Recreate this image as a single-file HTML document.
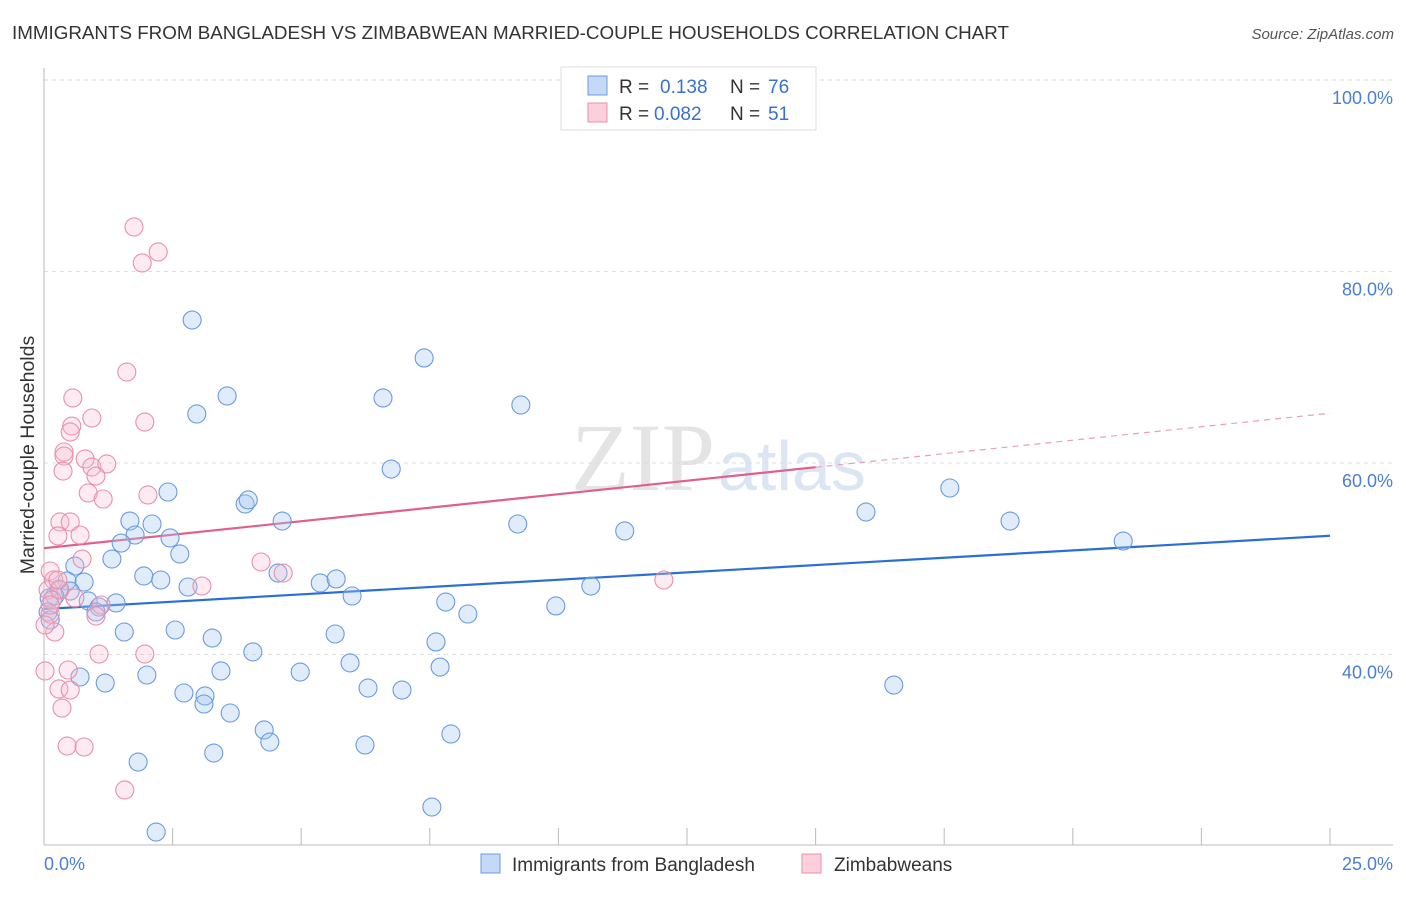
<!DOCTYPE html>
<html><head><meta charset="utf-8"><style>
body{margin:0;background:#fff;font-family:"Liberation Sans",sans-serif;}
</style></head><body>
<svg id="chart" width="1406" height="892" xmlns="http://www.w3.org/2000/svg" font-family="Liberation Sans, sans-serif">
<text x="12" y="39" font-size="18.8" fill="#333">IMMIGRANTS FROM BANGLADESH VS ZIMBABWEAN MARRIED-COUPLE HOUSEHOLDS CORRELATION CHART</text>
<text x="1394" y="39" font-size="15" fill="#555" font-style="italic" text-anchor="end">Source: ZipAtlas.com</text>
<text x="715" y="490" font-size="96" fill="#e4e4e4" text-anchor="end" font-family="Liberation Serif, serif">ZIP</text>
<text x="718" y="490" font-size="70" fill="#dbe5f4">atlas</text>
<g id="grid"></g>
<g id="axes"></g>
<g id="trends"></g>
<g id="pts"></g>
<text x="34" y="455" font-size="19.5" fill="#333" text-anchor="middle" transform="rotate(-90 34 455)">Married-couple Households</text>
<text x="44" y="870" font-size="18" fill="#4a7fd4">0.0%</text>
<text x="1393" y="870" font-size="18" fill="#4a7fd4" text-anchor="end">25.0%</text>
<g>
<rect x="561" y="67" width="255" height="63" fill="#fff" stroke="#ddd"/>
<rect x="588" y="76" width="19" height="19" fill="#c5d8f5" stroke="#6a9be0"/>
<rect x="588" y="103" width="19" height="19" fill="#fbd0dc" stroke="#e890aa"/>
<text x="619" y="93" font-size="19" fill="#333">R = </text><text x="660" y="93" font-size="19" fill="#3a70d0">0.138</text>
<text x="730" y="93" font-size="19" fill="#333">N = </text><text x="768" y="93" font-size="19" fill="#3a70d0">76</text>
<text x="619" y="120" font-size="19" fill="#333">R = </text><text x="654" y="120" font-size="19" fill="#3a70d0">0.082</text>
<text x="730" y="120" font-size="19" fill="#333">N = </text><text x="768" y="120" font-size="19" fill="#3a70d0">51</text>
</g>
<g>
<rect x="481" y="854" width="19" height="19" fill="#c5d8f5" stroke="#6a9be0"/>
<text x="512" y="871" font-size="19" fill="#333">Immigrants from Bangladesh</text>
<rect x="802" y="854" width="19" height="19" fill="#fbd0dc" stroke="#e890aa"/>
<text x="834" y="871" font-size="19" fill="#333">Zimbabweans</text>
</g>
</svg>
<script>
const blueX=[2.88,7.39,3.56,6.59,9.27,2.97,6.75,2.41,17.61,3.91,3.97,15.98,18.78,1.67,2.10,4.63,9.21,11.29,1.77,1.50,2.45,2.64,1.32,20.98,0.60,0.45,0.78,1.94,2.27,2.80,4.55,5.37,5.68,0.29,0.51,0.21,0.10,0.86,1.40,1.07,1.01,0.08,5.99,10.63,7.81,8.24,9.95,1.56,2.55,3.27,5.66,7.62,4.06,5.95,7.70,3.44,4.98,0.70,1.19,2.00,2.72,3.13,3.11,6.30,6.96,16.52,3.62,4.28,4.39,7.91,6.24,3.30,1.83,7.54,2.18,0.12];
const blueY=[74.93,70.97,67.00,66.79,66.06,65.12,59.37,56.97,57.39,55.72,56.14,54.88,53.94,53.94,53.63,53.94,53.63,52.90,52.48,51.64,52.17,50.50,49.97,51.85,49.24,47.68,47.57,48.20,47.78,47.05,48.51,47.47,47.89,46.84,46.63,46.11,45.90,45.59,45.38,44.96,44.44,44.44,46.11,47.15,45.48,44.23,45.07,42.35,42.56,41.72,42.14,41.31,40.27,39.12,38.69,38.28,38.17,37.65,37.02,37.86,35.98,35.67,34.83,36.50,36.29,36.81,33.89,32.12,30.86,31.70,30.55,29.71,28.77,24.07,21.46,43.60];
const pinkX=[1.75,2.22,1.91,1.61,0.56,0.93,1.96,0.54,0.51,0.39,0.80,0.39,0.93,1.22,1.01,0.37,0.86,1.15,0.31,0.51,0.27,0.70,2.02,0.74,4.22,4.65,3.07,12.05,0.12,0.19,0.08,0.31,0.16,0.60,1.11,1.01,0.12,0.21,1.07,1.96,0.02,0.47,0.29,0.51,0.35,0.45,0.78,1.57,0.12,0.02,0.27];
const pinkY=[84.65,82.04,80.89,69.50,66.79,64.70,64.28,63.86,63.24,61.15,60.42,60.73,59.58,59.90,58.64,59.16,56.87,56.24,53.84,53.84,52.38,52.48,56.66,49.97,49.66,48.51,47.15,47.78,48.72,47.78,46.74,46.74,45.69,45.90,45.17,44.02,44.23,42.35,40.05,40.05,38.28,38.38,36.40,36.29,34.41,30.44,30.34,25.85,45.17,43.08,47.78];
const blueTrend=[44.75,52.4];
const pinkTrend=[51.1,65.2];
const pinkSolidEnd=15;
const yTicks=[100,80,60,40];
const xTickCount=10;
const NS='http://www.w3.org/2000/svg';
const X=v=>44+v/25*1286;
const Y=v=>463-(v-60)*9.575;
function mk(tag,attrs,parent){const e=document.createElementNS(NS,tag);for(const k in attrs)e.setAttribute(k,attrs[k]);parent.appendChild(e);return e;}
const grid=document.getElementById('grid'),axes=document.getElementById('axes'),tr=document.getElementById('trends'),pts=document.getElementById('pts');
yTicks.forEach(t=>{
 const l=mk('line',{x1:44,x2:1393,y1:Y(t),y2:Y(t),stroke:'#ddd','stroke-dasharray':'4,4'},grid);
 
 
 const tx=mk('text',{x:1393,y:Y(t)+24,'font-size':18,fill:'#4a7fd4','text-anchor':'end'},grid);
 tx.textContent=t.toFixed(1)+'%';
 
 
});
const ya=mk('line',{x1:44,x2:44,y1:68,y2:845,stroke:'#bbb'},axes);


const xa=mk('line',{x1:44,x2:1393,y1:845,y2:845,stroke:'#bbb'},axes);


for(let i=1;i<=xTickCount;i++){const v=25*i/xTickCount;
 const t=mk('line',{x1:X(v),x2:X(v),y1:828,y2:845,stroke:'#bbb'},axes);
 
 }
function pt(x,y,fill,stroke,name){
 const c=mk('circle',{cx:X(x),cy:Y(y),r:9,fill:fill,stroke:stroke,'stroke-width':1.1},pts);
 
 }
blueX.forEach((x,i)=>pt(x,blueY[i],'rgba(170,200,240,0.35)','#6a9be0','bangladesh-point'));
pinkX.forEach((x,i)=>pt(x,pinkY[i],'rgba(248,190,210,0.3)','#e890aa','zimbabwean-point'));
const bl=mk('line',{x1:X(0),y1:Y(blueTrend[0]),x2:X(25),y2:Y(blueTrend[1]),stroke:'#2a6fd6','stroke-width':2.2},tr);


const pm=pinkTrend[0]+(pinkTrend[1]-pinkTrend[0])*pinkSolidEnd/25;
const pl=mk('line',{x1:X(0),y1:Y(pinkTrend[0]),x2:X(pinkSolidEnd),y2:Y(pm),stroke:'#e0608a','stroke-width':2.2},tr);


const pd=mk('line',{x1:X(pinkSolidEnd),y1:Y(pm),x2:X(25),y2:Y(pinkTrend[1]),stroke:'#e8a0b8','stroke-width':1.2,'stroke-dasharray':'6,5'},tr);


</script>
</body></html>
